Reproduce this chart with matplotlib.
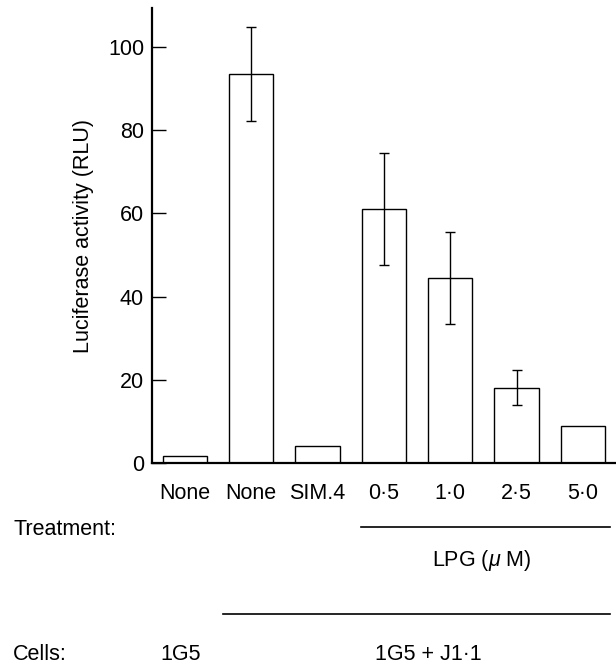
import numpy as np
import matplotlib
matplotlib.use("Agg")
import matplotlib.pyplot as plt
from matplotlib.lines import Line2D

plt.rcParams['font.family'] = ['Liberation Sans', 'DejaVu Sans']
plt.rcParams['mathtext.fontset'] = 'custom'
plt.rcParams['mathtext.it'] = 'Liberation Sans:italic'
plt.rcParams['mathtext.rm'] = 'Liberation Sans'

# Data
treatments = ['None', 'None', 'SIM.4', '0·5', '1·0', '2·5', '5·0']
activity = [1.8, 93.4, 4.2, 61.1, 44.4, 18.1, 9.0]
sd = [0, 11.3, 0, 13.4, 11.0, 4.2, 0]

W, H = 616, 665
fig = plt.figure(figsize=(W / 100, H / 100), dpi=100)
ax = fig.add_axes([151.7 / W, 1 - 463.3 / H, 1 - 151.7 / W, (463.3 - 8.3) / H])

x = np.arange(len(treatments))
ax.bar(x, activity, width=0.666, color='white', edgecolor='black', linewidth=1.0)

# error bars only where there is a spread
has_err = [i for i, s in enumerate(sd) if s > 0]
ax.errorbar(x[has_err], [activity[i] for i in has_err], yerr=[sd[i] for i in has_err],
            fmt='none', ecolor='black', elinewidth=1.0, capsize=3.6, capthick=1.0)

ax.set_xlim(-0.5, 6.5)
ax.set_ylim(0, 109.2)
ax.set_yticks([0, 20, 40, 60, 80, 100])
ax.set_xticks(x)
ax.set_xticklabels(treatments)

for s in ['top', 'right']:
    ax.spines[s].set_visible(False)
ax.spines['left'].set_linewidth(1.6)
ax.spines['bottom'].set_linewidth(1.6)
ax.spines['left'].set_capstyle('projecting')

ax.tick_params(axis='y', direction='in', length=10, width=1.0, pad=5.5, labelsize=15.5)
ax.tick_params(axis='x', length=0, pad=14, labelsize=15.5)
ax.set_ylabel('Luciferase activity (RLU)', fontsize=15.5, labelpad=10)


def px(xp, yp):
    # pixel position (from top-left) to figure fraction
    return xp / W, 1 - yp / H


fs = 15.5
fig.text(*px(13.3, 535), 'Treatment:', fontsize=fs, ha='left', va='baseline')
fig.text(*px(481.7, 566), r'LPG ($\mu$ M)', fontsize=fs, ha='center', va='baseline')
fig.text(*px(13.3, 660), 'Cells:', fontsize=fs, ha='left', va='baseline')
fig.text(*px(160, 660), '1G5', fontsize=fs, ha='left', va='baseline')
fig.text(*px(428.3, 660), '1G5 + J1·1', fontsize=fs, ha='center', va='baseline')

for x0, x1, yp in [(361, 610, 527.3), (222.7, 610, 614)]:
    a, b = px(x0, yp)
    c, d = px(x1, yp)
    fig.add_artist(Line2D([a, c], [b, d], color='black', linewidth=1.2))

fig.savefig('out.png', dpi=100)
